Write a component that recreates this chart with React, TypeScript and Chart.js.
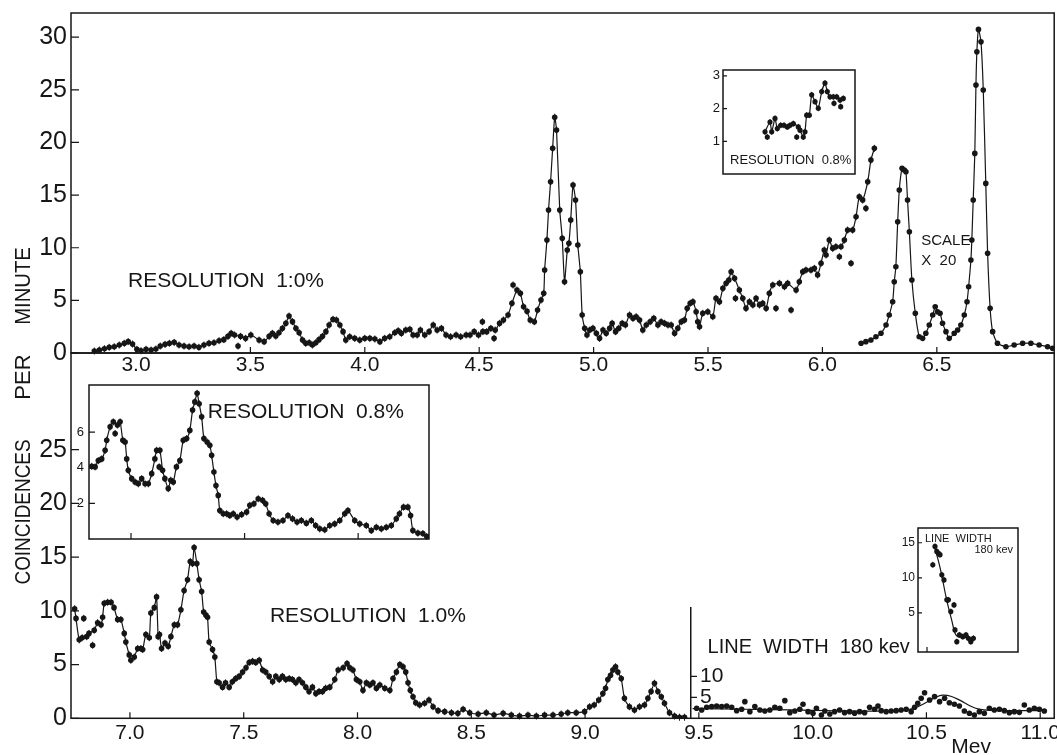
import React, { useEffect, useRef } from "react";
import { Chart, registerables } from "chart.js";

Chart.register(...registerables);

const INK = "#161616";
const FONT = "'Liberation Sans', 'DejaVu Sans', Arial, sans-serif";
Chart.defaults.font.family = FONT;
Chart.defaults.color = INK;

// ================= DATA =================
// Upper panel (MeV vs coincidences per minute), resolution 1.0 %
const topEnergy = [
  2.818, 2.84, 2.862, 2.883, 2.905, 2.927, 2.949, 2.966, 2.985, 3.004, 3.022, 3.044, 3.066, 3.087, 3.106, 3.127,
  3.146, 3.167, 3.188, 3.21, 3.232, 3.254, 3.275, 3.297, 3.319, 3.341, 3.363, 3.384, 3.402, 3.416, 3.431, 3.457,
  3.479, 3.502, 3.538, 3.56, 3.582, 3.596, 3.611, 3.625, 3.64, 3.655, 3.669, 3.684, 3.699, 3.713, 3.728, 3.742,
  3.757, 3.771, 3.786, 3.8, 3.815, 3.83, 3.844, 3.861, 3.876, 3.891, 3.905, 3.917, 3.934, 3.956, 3.978, 4.0,
  4.022, 4.044, 4.066, 4.087, 4.109, 4.131, 4.146, 4.16, 4.179, 4.197, 4.211, 4.229, 4.243, 4.262, 4.281, 4.299,
  4.316, 4.335, 4.355, 4.375, 4.399, 4.419, 4.443, 4.46, 4.478, 4.497, 4.516, 4.533, 4.551, 4.57, 4.589, 4.606,
  4.626, 4.643, 4.665, 4.68, 4.694, 4.709, 4.723, 4.741, 4.755, 4.77, 4.782, 4.786, 4.796, 4.803, 4.812, 4.821,
  4.83, 4.838, 4.852, 4.863, 4.873, 4.885, 4.892, 4.9, 4.91, 4.921, 4.931, 4.942, 4.95, 4.961, 4.971, 4.983,
  4.997, 5.012, 5.026, 5.041, 5.055, 5.07, 5.081, 5.096, 5.11, 5.125, 5.139, 5.157, 5.172, 5.186, 5.201, 5.215,
  5.23, 5.247, 5.263, 5.281, 5.295, 5.31, 5.325, 5.339, 5.354, 5.368, 5.383, 5.397, 5.409, 5.422, 5.434, 5.448,
  5.455, 5.463, 5.477, 5.499, 5.521, 5.535, 5.55, 5.565, 5.579, 5.591, 5.601, 5.616, 5.637, 5.652, 5.666, 5.681,
  5.696, 5.71, 5.725, 5.739, 5.754, 5.768, 5.783, 5.812, 5.834, 5.848, 5.885, 5.899, 5.914, 5.928, 5.95, 5.965,
  5.979, 5.994, 6.008, 6.016, 6.03, 6.045, 6.059, 6.081, 6.096, 6.11, 6.132, 6.147, 6.161, 6.176, 6.198, 6.212,
  6.227,
];
const topCounts = [
  0.19, 0.28, 0.41, 0.54, 0.6, 0.76, 0.92, 1.08, 0.85, 0.35, 0.22, 0.35, 0.28, 0.38, 0.66, 0.82,
  0.92, 1.01, 0.76, 0.66, 0.6, 0.66, 0.54, 0.76, 0.92, 0.98, 1.17, 1.27, 1.58, 1.87, 1.71, 1.58,
  1.39, 1.71, 1.23, 1.08, 1.58, 1.87, 1.61, 1.93, 2.34, 2.82, 3.51, 2.98, 2.34, 1.93, 1.23, 0.92,
  0.98, 0.76, 0.98, 1.27, 1.58, 2.03, 2.66, 3.2, 3.13, 2.66, 2.03, 1.23, 1.55, 1.39, 1.23, 1.39,
  1.39, 1.33, 1.08, 1.39, 1.55, 1.93, 2.12, 1.87, 2.18, 2.25, 1.71, 1.71, 2.18, 1.71, 2.03, 2.66,
  2.18, 2.34, 1.71, 1.55, 1.71, 1.55, 1.71, 1.71, 2.03, 1.71, 2.03, 2.03, 2.34, 2.18, 2.82, 3.13,
  3.61, 4.72, 5.98, 5.67, 4.4, 3.96, 3.13, 2.97, 4.08, 5.03, 5.67, 7.88, 10.73, 13.58, 16.27, 19.44,
  22.4, 21.18, 13.58, 10.89, 6.77, 9.78, 10.42, 12.63, 15.95, 14.53, 10.26, 7.72, 3.61, 2.35, 1.71, 2.18,
  2.35, 1.87, 1.39, 2.18, 1.87, 2.35, 2.82, 2.03, 2.35, 2.82, 2.66, 3.61, 3.29, 3.45, 3.13, 2.18,
  2.66, 2.97, 3.29, 2.66, 2.97, 2.82, 2.66, 2.66, 1.87, 2.35, 2.97, 3.13, 4.24, 4.72, 4.87, 3.92,
  2.97, 2.5, 3.77, 3.92, 3.45, 5.19, 4.87, 6.14, 6.62, 6.93, 7.72, 7.09, 5.98, 5.19, 4.24, 4.87,
  4.56, 5.19, 4.56, 4.72, 4.24, 5.67, 6.46, 6.62, 6.3, 6.62, 5.98, 6.77, 7.72, 7.88, 7.88, 8.04,
  7.41, 8.52, 9.78, 9.31, 10.73, 9.94, 10.1, 10.1, 10.73, 11.68, 11.68, 12.94, 14.84, 14.53, 16.27, 18.33,
  19.44,
];
const topStrayEnergy = [3.446, 4.514, 4.565, 4.648, 5.62, 5.797, 5.863, 6.074, 6.125, 6.19];
const topStrayCounts = [0.66, 2.97, 1.39, 6.46, 5.19, 4.24, 4.08, 9.15, 8.52, 13.74];

// Upper panel, region plotted on a x20 reduced scale
const scaledEnergy = [
  6.169, 6.19, 6.212, 6.234, 6.256, 6.278, 6.292, 6.307, 6.314, 6.321, 6.329, 6.336, 6.348, 6.358, 6.365, 6.372,
  6.38, 6.391, 6.406, 6.423, 6.438, 6.452, 6.467, 6.482, 6.493, 6.503, 6.514, 6.525, 6.54, 6.554, 6.576, 6.591,
  6.605, 6.62, 6.632, 6.639, 6.649, 6.653, 6.659, 6.666, 6.671, 6.675, 6.682, 6.693, 6.703, 6.714, 6.722, 6.733,
  6.744, 6.765, 6.802, 6.838, 6.875, 6.911, 6.947, 6.984, 7.006,
];
const scaledCounts = [
  0.92, 1.08, 1.23, 1.55, 1.87, 2.66, 3.61, 4.87, 6.77, 8.2, 12.47, 15.48, 17.54, 17.38, 17.22, 14.53,
  11.52, 6.93, 3.77, 1.55, 1.39, 1.87, 2.66, 3.61, 4.4, 3.92, 3.77, 2.82, 2.03, 1.39, 1.87, 2.18,
  2.66, 3.61, 4.87, 6.3, 8.83, 10.73, 14.53, 18.96, 25.45, 28.61, 30.74, 29.56, 24.98, 16.11, 9.47, 4.24,
  2.03, 0.92, 0.6, 0.76, 0.92, 0.92, 0.76, 0.6, 0.44,
];
const topTickEnergy = [3.0, 3.5, 4.0, 4.5, 5.0, 5.5, 6.0, 6.5];
const topTickCounts = [0, 5, 10, 15, 20, 25, 30];

// Upper inset, resolution 0.8 %
const insetTopEnergy = [
  5.42, 5.47, 5.487, 5.52, 5.543, 5.577, 5.61, 5.643, 5.67, 5.703, 5.753, 5.77, 5.803, 5.82, 5.837, 5.863,
  5.887, 5.92, 5.953, 5.987, 6.02, 6.043, 6.07, 6.103, 6.137, 6.17, 6.203,
];
const insetTopCounts = [
  1.29, 1.59, 1.29, 1.7, 1.39, 1.49, 1.49, 1.44, 1.49, 1.54, 1.44, 1.34, 1.13, 1.29, 1.8, 1.8,
  2.42, 2.21, 2.01, 2.52, 2.78, 2.52, 2.36, 2.36, 2.36, 2.26, 2.31,
];
const insetTopStrayEnergy = [5.443, 5.737, 6.11, 6.177];
const insetTopStrayCounts = [1.13, 1.13, 2.16, 2.06];
const insetTopTickCounts = [1, 2, 3];

// Lower panel, resolution 1.0 %
const bottomEnergy = [
  6.757, 6.763, 6.777, 6.79, 6.81, 6.82, 6.843, 6.858, 6.873, 6.88, 6.887, 6.902, 6.917, 6.93, 6.946, 6.96,
  6.975, 6.982, 6.997, 7.004, 7.019, 7.034, 7.048, 7.056, 7.07, 7.085, 7.092, 7.107, 7.117, 7.124, 7.13, 7.139,
  7.154, 7.168, 7.18, 7.195, 7.209, 7.224, 7.238, 7.253, 7.265, 7.275, 7.282, 7.294, 7.304, 7.315, 7.324, 7.334,
  7.341, 7.348, 7.363, 7.373, 7.382, 7.392, 7.407, 7.42, 7.436, 7.45, 7.465, 7.48, 7.495, 7.51, 7.524, 7.539,
  7.553, 7.568, 7.583, 7.597, 7.612, 7.627, 7.641, 7.656, 7.67, 7.685, 7.7, 7.714, 7.729, 7.743, 7.758, 7.773,
  7.787, 7.802, 7.817, 7.831, 7.846, 7.86, 7.878, 7.9, 7.915, 7.937, 7.954, 7.966, 7.98, 7.995, 8.01, 8.024,
  8.039, 8.054, 8.068, 8.083, 8.098, 8.12, 8.142, 8.156, 8.171, 8.186, 8.2, 8.212, 8.222, 8.232, 8.244, 8.256,
  8.273, 8.295, 8.314, 8.332, 8.354, 8.383, 8.413, 8.441, 8.464, 8.493, 8.53, 8.566, 8.6, 8.64, 8.676, 8.712,
  8.749, 8.786, 8.822, 8.859, 8.895, 8.924, 8.961, 8.998, 9.02, 9.04, 9.06, 9.078, 9.09, 9.1, 9.112, 9.122,
  9.134, 9.144, 9.159, 9.173, 9.195, 9.217, 9.239, 9.261, 9.276, 9.29, 9.305, 9.32, 9.335, 9.349, 9.371, 9.393,
  9.415, 9.437,
];
const bottomCounts = [
  10.2, 9.3, 7.3, 7.5, 7.6, 7.9, 8.2, 8.9, 8.7, 9.4, 10.7, 10.8, 10.8, 10.3, 9.2, 9.2,
  7.9, 7.1, 5.9, 5.4, 5.7, 6.5, 6.5, 6.4, 7.8, 7.5, 9.8, 10.3, 11.3, 7.6, 7.8, 6.5,
  7.0, 6.7, 7.6, 8.7, 8.7, 10.1, 11.9, 12.9, 14.6, 14.4, 15.9, 14.4, 12.9, 11.8, 9.9, 9.6,
  9.4, 7.1, 6.4, 5.7, 3.4, 3.3, 2.9, 3.3, 2.9, 3.4, 3.7, 3.9, 4.3, 4.7, 5.2, 5.3,
  5.2, 5.4, 4.5, 4.3, 3.9, 3.4, 3.9, 3.6, 3.9, 3.6, 3.7, 3.6, 3.3, 3.6, 3.3, 2.9,
  2.5, 2.9, 2.3, 2.5, 2.5, 2.8, 2.9, 3.6, 4.5, 4.7, 5.1, 4.7, 4.5, 3.6, 3.4, 2.6,
  3.3, 3.1, 3.3, 2.8, 3.1, 2.8, 2.6, 3.7, 4.3, 5.0, 4.8, 4.3, 3.3, 2.6, 2.0, 1.45,
  1.24, 1.4, 1.7, 1.08, 0.71, 0.62, 0.52, 0.46, 0.84, 0.52, 0.4, 0.52, 0.3, 0.46, 0.3, 0.21,
  0.3, 0.21, 0.3, 0.3, 0.4, 0.52, 0.52, 0.62, 1.08, 1.24, 1.7, 2.3, 2.8, 3.6, 4.0, 4.5,
  4.8, 4.3, 3.7, 1.86, 1.08, 0.77, 1.08, 1.24, 1.86, 2.5, 3.26, 2.5, 2.0, 1.4, 0.52, 0.21,
  0.1, 0.1,
];
const bottomStrayEnergy = [6.797, 6.836];
const bottomStrayCounts = [9.3, 6.8];
const bottomTickEnergy = [7.0, 7.5, 8.0, 8.5, 9.0, 9.5, 10.0, 10.5, 11.0];
const bottomTickCounts = [0, 5, 10, 15, 20, 25];

// Lower panel, high-energy part (line width 180 kev), own count scale
const widthEnergy = [
  9.488, 9.51, 9.532, 9.554, 9.576, 9.598, 9.62, 9.642, 9.664, 9.686, 9.7, 9.722, 9.744, 9.766, 9.788, 9.81,
  9.832, 9.854, 9.876, 9.898, 9.92, 9.942, 9.956, 9.978, 10.0, 10.015, 10.037, 10.052, 10.074, 10.095, 10.117, 10.139,
  10.161, 10.183, 10.205, 10.227, 10.249, 10.271, 10.286, 10.3, 10.322, 10.344, 10.366, 10.388, 10.41, 10.432, 10.447, 10.461,
  10.476, 10.491, 10.513, 10.535, 10.557, 10.579, 10.6, 10.622, 10.644, 10.666, 10.688, 10.71, 10.732, 10.754, 10.776, 10.798,
  10.82, 10.842, 10.864, 10.886, 10.908, 10.93, 10.952, 10.974, 10.996, 11.018,
];
const widthCounts = [
  2.38, 1.98, 2.62, 2.78, 2.93, 2.78, 2.93, 2.62, 1.82, 2.14, 3.96, 1.58, 2.78, 1.98, 1.74, 1.98,
  2.62, 2.38, 4.2, 1.34, 1.74, 2.14, 3.33, 1.58, 1.19, 2.38, 0.79, 1.74, 1.03, 1.58, 1.98, 1.34,
  1.58, 1.19, 1.58, 1.34, 2.62, 2.14, 2.93, 1.82, 1.58, 1.74, 1.82, 1.98, 2.14, 1.58, 2.62, 3.57,
  4.76, 6.1, 4.36, 5.15, 3.96, 4.76, 3.7, 3.33, 2.93, 1.74, 1.19, 0.79, 1.58, 1.19, 2.38, 1.98,
  2.14, 1.82, 1.34, 1.58, 1.42, 3.17, 1.98, 2.38, 2.14, 1.74,
];
const widthFitEnergy = [9.47, 9.7, 9.9, 10.1, 10.3, 10.4, 10.45, 10.5, 10.54, 10.57, 10.61, 10.65, 10.69, 10.73, 10.78, 10.9, 11.03];
const widthFitCounts = [2.3, 2.15, 2.0, 1.8, 1.7, 1.9, 2.5, 3.8, 5.0, 5.5, 5.2, 4.2, 3.0, 2.2, 1.9, 1.85, 1.85];
const widthTickCounts = [5, 10];

// Lower-left inset, resolution 0.8 %
const insetLeftEnergy = [
  6.827, 6.842, 6.856, 6.871, 6.886, 6.893, 6.908, 6.922, 6.94, 6.952, 6.964, 6.974, 6.981, 6.988, 7.003, 7.018,
  7.032, 7.047, 7.062, 7.076, 7.091, 7.105, 7.113, 7.127, 7.139, 7.149, 7.164, 7.175, 7.186, 7.2, 7.215, 7.23,
  7.245, 7.259, 7.271, 7.281, 7.291, 7.3, 7.311, 7.321, 7.335, 7.347, 7.355, 7.365, 7.374, 7.384, 7.391, 7.406,
  7.421, 7.435, 7.45, 7.467, 7.487, 7.509, 7.523, 7.541, 7.56, 7.579, 7.593, 7.608, 7.626, 7.647, 7.669, 7.691,
  7.711, 7.731, 7.75, 7.772, 7.794, 7.813, 7.831, 7.853, 7.875, 7.897, 7.919, 7.941, 7.955, 7.985, 8.007, 8.036,
  8.058, 8.08, 8.102, 8.124, 8.146, 8.168, 8.182, 8.2, 8.219, 8.231, 8.241, 8.263, 8.285, 8.302,
];
const insetLeftCounts = [
  4.08, 4.05, 4.4, 4.5, 4.98, 5.55, 6.3, 6.58, 6.4, 6.58, 5.55, 5.45, 4.5, 3.86, 3.39, 3.2,
  3.1, 3.39, 3.1, 3.1, 3.67, 4.5, 4.98, 4.98, 3.86, 3.39, 2.83, 3.3, 3.2, 4.05, 4.4, 5.55,
  5.64, 6.1, 7.24, 7.7, 8.18, 7.6, 6.86, 5.64, 5.45, 5.27, 4.7, 3.76, 3.0, 2.45, 1.6, 1.42,
  1.42, 1.32, 1.42, 1.23, 1.38, 1.51, 1.89, 1.98, 2.26, 2.17, 1.98, 1.42, 1.04, 0.95, 1.04, 1.32,
  1.14, 0.95, 1.04, 0.89, 1.04, 0.76, 0.57, 0.52, 0.76, 0.85, 1.04, 1.42, 1.6, 1.04, 0.85, 0.76,
  0.48, 0.66, 0.57, 0.66, 0.76, 1.14, 1.42, 1.79, 1.79, 1.32, 0.48, 0.33, 0.31, 0.14,
];
const insetLeftStrayEnergy = [6.93, 7.124];
const insetLeftStrayCounts = [5.93, 4.05];
const insetLeftTickEnergy = [7.0, 7.5, 8.0];
const insetLeftTickCounts = [2, 4, 6];

// Lower-right inset, line width 180 kev
const insetRightEnergy = [
  10.374, 10.385, 10.394, 10.402, 10.41, 10.419, 10.43, 10.444, 10.452, 10.464, 10.48, 10.485, 10.494, 10.507, 10.524, 10.54,
  10.552, 10.564, 10.577,
];
const insetRightCounts = [
  11.86, 14.47, 13.76, 13.5, 13.3, 10.43, 9.7, 6.86, 6.86, 5.19, 6.14, 2.57, 0.9, 1.86, 1.62, 1.86,
  1.38, 0.9, 1.38,
];
const insetRightFitEnergy = [10.38, 10.41, 10.443, 10.47, 10.485, 10.5, 10.585];
const insetRightFitCounts = [14.7, 11.5, 6.9, 3.8, 2.1, 1.6, 1.4];
const insetRightTickEnergy = [10.345];
const insetRightTickCounts = [5, 10, 15];

// ================= CHART HELPERS =================
const pairs = (xs: number[], ys: number[]) => xs.map((x, i) => ({ x, y: ys[i] }));

const dotSeries = (xs: number[], ys: number[], line: boolean, r = 2.8, eb = 3.5) => ({
  data: pairs(xs, ys),
  showLine: line,
  borderColor: INK,
  borderWidth: 1.2,
  tension: 0.2,
  pointRadius: r,
  pointHoverRadius: r,
  pointBackgroundColor: INK,
  pointBorderWidth: 0,
  errBar: eb,
});

const curveSeries = (xs: number[], ys: number[]) => ({
  data: pairs(xs, ys),
  showLine: true,
  borderColor: INK,
  borderWidth: 1.2,
  tension: 0.4,
  pointRadius: 0,
  pointHoverRadius: 0,
});

type Txt = { text: string; x: number; y: number; size: number; align?: CanvasTextAlign };

function makeDecor(spec: any) {
  return {
    id: "decor",
    beforeDraw(chart: any) {
      if (!spec.fill) return;
      const { left, top, right, bottom } = chart.chartArea;
      const ctx = chart.ctx;
      ctx.save();
      ctx.fillStyle = "#fff";
      ctx.fillRect(left, top, right - left, bottom - top);
      ctx.restore();
    },
    afterDatasetsDraw(chart: any) {
      const ctx = chart.ctx;
      ctx.save();
      ctx.strokeStyle = INK;
      ctx.lineWidth = 1;
      chart.data.datasets.forEach((ds: any, i: number) => {
        const eb = ds.errBar;
        if (!eb) return;
        const meta = chart.getDatasetMeta(i);
        ctx.beginPath();
        meta.data.forEach((el: any) => {
          ctx.moveTo(el.x, el.y - eb);
          ctx.lineTo(el.x, el.y + eb);
        });
        ctx.stroke();
      });
      ctx.restore();
    },
    afterDraw(chart: any) {
      const ctx = chart.ctx;
      const ca = chart.chartArea;
      const xs = chart.scales.x;
      const ys = chart.scales.y;
      ctx.save();
      ctx.strokeStyle = INK;
      ctx.lineWidth = 1.5;
      if (spec.frame) ctx.strokeRect(ca.left, ca.top, ca.right - ca.left, ca.bottom - ca.top);
      ctx.lineWidth = 1.2;
      ctx.beginPath();
      (spec.innerX || []).forEach((v: number) => {
        const p = xs.getPixelForValue(v);
        ctx.moveTo(p, ca.bottom);
        ctx.lineTo(p, ca.bottom - spec.tickLenX);
      });
      (spec.innerY || []).forEach((v: number) => {
        const p = ys.getPixelForValue(v);
        ctx.moveTo(ca.left, p);
        ctx.lineTo(ca.left + spec.tickLenY, p);
      });
      ctx.stroke();
      ctx.fillStyle = INK;
      ctx.textBaseline = "alphabetic";
      (spec.texts || []).forEach((t: Txt) => {
        ctx.font = `${t.size}px ${FONT}`;
        ctx.textAlign = t.align || "left";
        ctx.fillText(t.text, xs.getPixelForValue(t.x), ys.getPixelForValue(t.y));
      });
      ctx.restore();
    },
  };
}

function zeroPad(s: any) {
  s.paddingLeft = 0;
  s.paddingRight = 0;
  s.paddingTop = 0;
  s.paddingBottom = 0;
}

function buildConfig(spec: any) {
  return {
    type: "scatter",
    data: { datasets: spec.datasets },
    options: {
      responsive: false,
      animation: false,
      events: [],
      layout: { padding: spec.padding },
      plugins: { legend: { display: false }, tooltip: { enabled: false } },
      scales: {
        x: {
          type: "linear",
          position: "bottom",
          min: spec.x.min,
          max: spec.x.max,
          display: spec.x.show,
          afterBuildTicks: (s: any) => {
            s.ticks = (spec.x.ticks || []).map((value: number) => ({ value }));
          },
          afterFit: (s: any) => {
            s.height = spec.x.height || 0;
            zeroPad(s);
          },
          grid: { display: false, drawTicks: false },
          border: { display: false },
          ticks: {
            display: !!spec.x.labels,
            autoSkip: false,
            maxRotation: 0,
            padding: spec.x.pad || 0,
            color: INK,
            font: { family: FONT, size: spec.x.font || 12 },
            callback: (v: any) => Number(v).toFixed(1),
          },
        },
        y: {
          type: "linear",
          position: "left",
          min: spec.y.min,
          max: spec.y.max,
          display: true,
          afterBuildTicks: (s: any) => {
            s.ticks = spec.y.ticks.map((value: number) => ({ value }));
          },
          afterFit: (s: any) => {
            s.width = spec.y.width;
            zeroPad(s);
          },
          grid: { display: false, drawTicks: false },
          border: spec.y.border ? { display: true, color: INK, width: 1.5 } : { display: false },
          ticks: {
            display: true,
            autoSkip: false,
            mirror: !!spec.y.mirror,
            padding: spec.y.pad,
            color: INK,
            font: { family: FONT, size: spec.y.font },
            callback: (v: any) => String(Number(v)),
          },
        },
      },
    },
    plugins: [makeDecor(spec)],
  };
}

function Panel({ box, spec }: { box: { x: number; y: number; w: number; h: number }; spec: any }) {
  const ref = useRef<HTMLCanvasElement>(null);
  useEffect(() => {
    const chart = new Chart(ref.current as HTMLCanvasElement, buildConfig(spec) as any);
    return () => chart.destroy();
  }, []);
  return (
    <canvas
      ref={ref}
      width={box.w}
      height={box.h}
      style={{ position: "absolute", left: box.x, top: box.y, width: box.w, height: box.h }}
    />
  );
}

// ================= PANEL SPECS =================
const topSpec = {
  padding: { top: 13, right: 2, bottom: 0, left: 0 },
  x: { min: 2.716, max: 7.013, ticks: topTickEnergy, show: true, labels: true, font: 21, pad: 0, height: 32 },
  y: { min: 0, max: 32.3, ticks: topTickCounts, font: 25, pad: 4, width: 71 },
  datasets: [
    dotSeries(topEnergy, topCounts, true),
    dotSeries(topStrayEnergy, topStrayCounts, false),
    dotSeries(scaledEnergy, scaledCounts, true, 2.8, 0),
  ],
  frame: true,
  innerX: topTickEnergy,
  innerY: topTickCounts,
  tickLenX: 6,
  tickLenY: 8,
  texts: [
    { text: "RESOLUTION  1:0%", x: 2.965, y: 6.27, size: 21 },
    { text: "SCALE", x: 6.432, y: 10.26, size: 15 },
    { text: "X  20", x: 6.432, y: 8.36, size: 15 },
  ],
};

const insetTopSpec = {
  padding: { top: 10, right: 10, bottom: 11, left: 0 },
  x: { min: 5.0, max: 6.32, show: false },
  y: { min: 0, max: 3.18, ticks: insetTopTickCounts, font: 13, pad: 3, width: 33 },
  datasets: [
    dotSeries(insetTopEnergy, insetTopCounts, true, 2.6, 3),
    dotSeries(insetTopStrayEnergy, insetTopStrayCounts, false, 2.6, 3),
  ],
  frame: true,
  fill: true,
  innerY: insetTopTickCounts,
  tickLenX: 4,
  tickLenY: 4,
  texts: [{ text: "RESOLUTION  0.8%", x: 5.07, y: 0.32, size: 13 }],
};

const bottomSpec = {
  padding: { top: 13, right: 2, bottom: 0, left: 0 },
  x: { min: 6.741, max: 11.0615, ticks: bottomTickEnergy, show: true, labels: true, font: 21, pad: 2, height: 36.7 },
  y: { min: 0, max: 34.0, ticks: bottomTickCounts, font: 25, pad: 4, width: 71 },
  datasets: [dotSeries(bottomEnergy, bottomCounts, true), dotSeries(bottomStrayEnergy, bottomStrayCounts, false)],
  frame: true,
  innerX: bottomTickEnergy,
  innerY: bottomTickCounts,
  tickLenX: 6,
  tickLenY: 8,
  texts: [
    { text: "RESOLUTION  1.0%", x: 7.615, y: 8.97, size: 21 },
    { text: "LINE  WIDTH  180 kev", x: 9.538, y: 6.08, size: 20 },
    { text: "Mev", x: 10.609, y: -3.23, size: 21 },
  ],
};

const widthSpec = {
  padding: { top: 10, right: 2, bottom: 9.7, left: 0 },
  x: { min: 9.463, max: 11.0615, show: false },
  y: { min: 0, max: 26.26, ticks: widthTickCounts, font: 21, pad: 9, width: 71, mirror: true, border: true },
  datasets: [dotSeries(widthEnergy, widthCounts, false, 2.8, 0), curveSeries(widthFitEnergy, widthFitCounts)],
  frame: false,
  innerY: widthTickCounts,
  tickLenX: 0,
  tickLenY: 6,
  texts: [],
};

const insetLeftSpec = {
  padding: { top: 10, right: 11, bottom: 11, left: 0 },
  x: { min: 6.815, max: 8.312, show: false },
  y: { min: 0, max: 8.65, ticks: insetLeftTickCounts, font: 13, pad: 5, width: 29 },
  datasets: [
    dotSeries(insetLeftEnergy, insetLeftCounts, true, 2.8, 3.5),
    dotSeries(insetLeftStrayEnergy, insetLeftStrayCounts, false, 2.8, 3.5),
  ],
  frame: true,
  fill: true,
  innerX: insetLeftTickEnergy,
  innerY: insetLeftTickCounts,
  tickLenX: 6,
  tickLenY: 6,
  texts: [{ text: "RESOLUTION  0.8%", x: 7.338, y: 6.79, size: 21 }],
};

const insetRightSpec = {
  padding: { top: 10, right: 12, bottom: 11, left: 0 },
  x: { min: 10.3, max: 10.8, show: false },
  y: { min: -0.57, max: 17.1, ticks: insetRightTickCounts, font: 12, pad: 3, width: 28 },
  datasets: [
    dotSeries(insetRightEnergy, insetRightCounts, false, 2.6, 3),
    curveSeries(insetRightFitEnergy, insetRightFitCounts),
  ],
  frame: true,
  fill: true,
  innerX: insetRightTickEnergy,
  innerY: insetRightTickCounts,
  tickLenX: 5,
  tickLenY: 4,
  texts: [
    { text: "LINE  WIDTH", x: 10.335, y: 15.14, size: 11 },
    { text: "180 kev", x: 10.775, y: 13.57, size: 11, align: "right" },
  ],
};

const titleWord = (text: string, top: number, squeeze: number) => (
  <div
    key={text}
    style={{
      position: "absolute",
      left: 23,
      top,
      transform: `translate(-50%, -50%) rotate(-90deg) scaleX(${squeeze})`,
      font: `22px ${FONT}`,
      color: INK,
      whiteSpace: "nowrap",
      lineHeight: 1,
    }}
  >
    {text}
  </div>
);

export default function App() {
  return (
    <div
      style={{
        position: "fixed",
        left: 0,
        top: 0,
        width: 1057,
        height: 755,
        background: "#fff",
        overflow: "hidden",
      }}
    >
      <Panel box={{ x: 0, y: 0, w: 1057, h: 385 }} spec={topSpec} />
      <Panel box={{ x: 0, y: 340, w: 1057, h: 415 }} spec={bottomSpec} />
      <Panel box={{ x: 620, y: 598, w: 437, h: 130 }} spec={widthSpec} />
      <Panel box={{ x: 690, y: 60, w: 175, h: 125 }} spec={insetTopSpec} />
      <Panel box={{ x: 60, y: 375, w: 380, h: 175 }} spec={insetLeftSpec} />
      <Panel box={{ x: 890, y: 518, w: 140, h: 145 }} spec={insetRightSpec} />
      {titleWord("MINUTE", 286, 0.92)}
      {titleWord("PER", 377, 1)}
      {titleWord("COINCIDENCES", 512, 0.86)}
    </div>
  );
}
